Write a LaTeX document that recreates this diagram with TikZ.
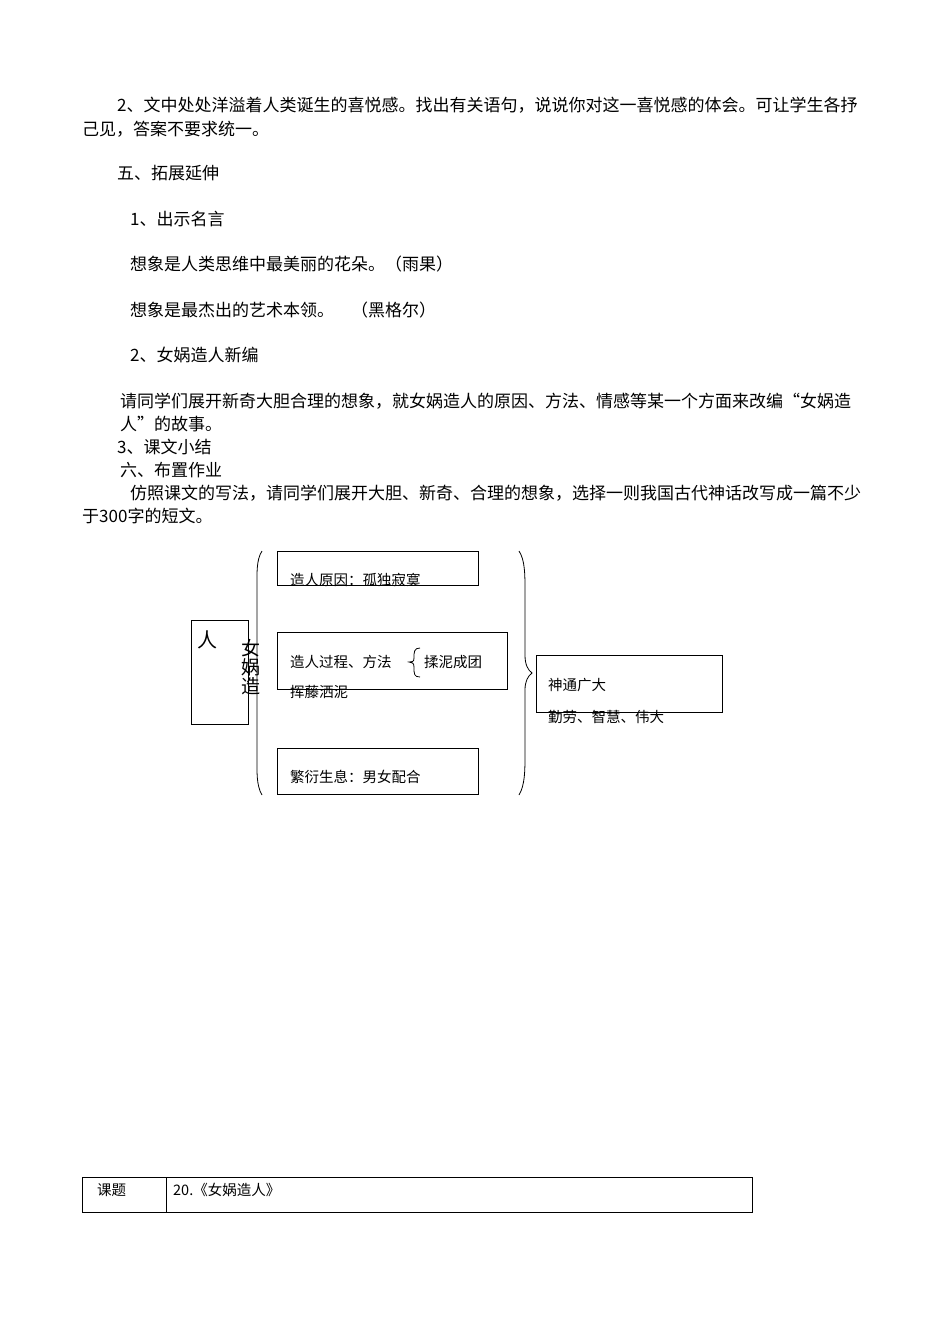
\documentclass[tikz,border=0pt]{standalone}
\usepackage{fontspec}
\setmainfont{Noto Sans CJK SC}
\begin{document}
\begin{tikzpicture}[x=1pt,y=-1pt,
  txt/.style={anchor=west,inner sep=0pt,font=\fontsize{14.5}{16}\selectfont},
  body/.style={txt,font=\fontsize{17}{18}\selectfont},
  bx/.style={draw,line width=0.8pt},
  br/.style={draw,line width=0.8pt}]
\useasboundingbox[fill=white] (0,0) rectangle (950,1344);
\node[body] (l1) at (117,105) {2、文中处处洋溢着人类诞生的喜悦感。找出有关语句，说说你对这一喜悦感的体会。可让学生各抒};
\node[body] (l2) at (82,129) {己见，答案不要求统一。};
\node[body] (l3) at (117,173) {五、拓展延伸};
\node[body] (l4) at (130,219) {1、出示名言};
\node[body] (l5) at (130,264) {想象是人类思维中最美丽的花朵。（雨果）};
\node[body] (l6) at (130,310) {想象是最杰出的艺术本领。\quad（黑格尔）};
\node[body] (l7) at (130,355) {2、女娲造人新编};
\node[body] (l8) at (120,401) {请同学们展开新奇大胆合理的想象，就女娲造人的原因、方法、情感等某一个方面来改编“女娲造};
\node[body] (l9) at (120,424) {人”的故事。};
\node[body] (l10) at (117,447) {3、课文小结};
\node[body] (l11) at (120,470) {六、布置作业};
\node[body] (l12) at (130,493) {仿照课文的写法，请同学们展开大胆、新奇、合理的想象，选择一则我国古代神话改写成一篇不少};
\node[body] (l13) at (82,516) {于300字的短文。};
% diagram
\draw[bx] (191,620) rectangle (248,724);
\node[txt,font=\fontsize{20}{22}\selectfont] (ren) at (197,640) {人};
\node[inner sep=0pt,font=\fontsize{19}{22}\selectfont,align=center] (nw) at (251,667) {女\\[-3pt]娲\\[-3pt]造};
\draw[br] (262,551) .. controls (256,560) and (257,575) .. (257,590) -- (257,755) .. controls (257,770) and (256,785) .. (262,795);
\draw[bx] (277,551) rectangle (478,585);
\node[txt] (b1) at (290,580) {造人原因：孤独寂寞};
\draw[bx] (277,632) rectangle (507,689);
\node[txt] (b2) at (290,662) {造人过程、方法};
\draw[br] (420,648) .. controls (414,648) and (414,652) .. (414,658) .. controls (414,662) and (412,662) .. (409,662) .. controls (412,662) and (414,663) .. (414,667) .. controls (414,674) and (414,677) .. (420,677);
\node[txt] (b2b) at (424,662) {揉泥成团};
\node[txt] (b2c) at (290,692) {挥藤洒泥};
\draw[bx] (277,748) rectangle (478,794);
\node[txt] (b3) at (290,777) {繁衍生息：男女配合};
\draw[br] (519,551) .. controls (525,560) and (525,575) .. (525,590) -- (525,655) .. controls (525,665) and (528,670) .. (532,673) .. controls (528,676) and (525,681) .. (525,690) -- (525,755) .. controls (525,770) and (525,785) .. (519,795);
\draw[bx] (536,655) rectangle (722,712);
\node[txt] (r1) at (548,685) {神通广大};
\node[txt] (r2) at (548,717) {勤劳、智慧、伟大};
% table
\draw[line width=0.8pt] (82,1177) rectangle (752,1212);
\draw[line width=0.8pt] (166,1177) -- (166,1212);
\node[txt] (t1) at (97,1190) {课题};
\node[txt] (t2) at (173,1190) {20.《女娲造人》};
\end{tikzpicture}
\end{document}
